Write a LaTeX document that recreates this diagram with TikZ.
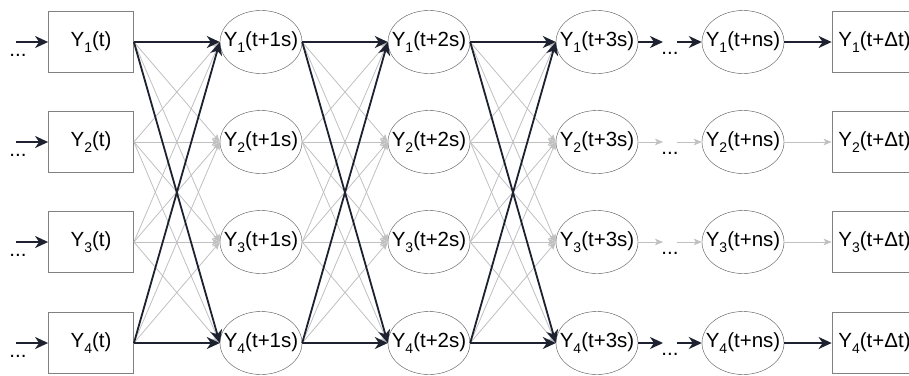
\documentclass[tikz,border=0pt]{standalone}
\usepackage{fontspec}
\setmainfont{Liberation Sans}
\usetikzlibrary{shapes.geometric,arrows.meta,positioning}
\definecolor{netdark}{RGB}{30,34,48}
\definecolor{netgray}{RGB}{192,192,192}
\definecolor{netbox}{RGB}{128,128,128}
\definecolor{netell}{RGB}{80,80,80}
\newcommand{\elltext}[1]{\makebox[0pt]{#1}}
\newcommand{\varidx}[1]{\raisebox{-0.28em}{\fontsize{14}{14}\selectfont #1}}

\begin{document}
\begin{tikzpicture}[x=1pt, y=-1pt, node distance=168pt,
        boxstate/.style={rectangle, draw=netbox, thick, minimum width=85pt, minimum height=61pt, inner sep=0pt, font=\fontsize{20.5}{24}\selectfont},
        ellstate/.style={ellipse, draw=netell, thin, minimum width=82pt, minimum height=63pt, inner sep=0pt, font=\fontsize{20.5}{24}\selectfont},
        dots/.style={inner sep=0pt, font=\fontsize{20.5}{24}\selectfont},
        weak/.style={-{Stealth[length=8pt,width=6.5pt,inset=2pt]}, color=netgray, line width=0.8pt},
        strong/.style={-{Stealth[length=13pt,width=12pt,inset=4pt]}, color=netdark, line width=1.8pt}
    ]
        \useasboundingbox (0,0) rectangle (909,375);
        % states, one row per variable
        \foreach \r/\y in {1/42,2/142,3/242,4/343} {
            \node[boxstate] (c0r\r) at (91,\y) {Y\varidx{\r}(t)};
            \node[ellstate, right of=c0r\r, xshift=2pt] (c1r\r) {\elltext{Y\varidx{\r}(t+1s)}};
            \node[ellstate, right of=c1r\r] (c2r\r) {\elltext{Y\varidx{\r}(t+2s)}};
            \node[ellstate, right of=c2r\r] (c3r\r) {\elltext{Y\varidx{\r}(t+3s)}};
            \node[ellstate, right of=c3r\r, xshift=-22pt] (cnr\r) {\elltext{Y\varidx{\r}(t+ns)}};
            \node[boxstate, right of=cnr\r, xshift=-36.5pt] (cdr\r) {Y\varidx{\r}(t+Δt)};
            \coordinate (inl\r) at (16,\y);
            \node[dots] (dl\r) at (18,\y+13) {...};
            \coordinate (gapa\r) at (663,\y);
            \node[dots] (dm\r) at (670,\y+11) {...};
            \coordinate (gapb\r) at (677,\y);
        }
        % all links between neighbouring columns
        \foreach \a/\b in {c0/c1,c1/c2,c2/c3} {
            \foreach \i in {1,...,4}
                \foreach \j in {1,...,4}
                    \draw[weak] (\a r\i.east) -- (\b r\j.west);
            \draw[strong] (\a r1.east) -- (\b r1.west);
            \draw[strong] (\a r4.east) -- (\b r4.west);
            \draw[strong] (\a r1.east) -- (\b r4.west);
            \draw[strong] (\a r4.east) -- (\b r1.west);
        }
        % inputs and the tail of each chain
        \foreach \r/\st in {1/strong,2/weak,3/weak,4/strong} {
            \draw[strong] (inl\r) -- (c0r\r.west);
            \draw[\st] (c3r\r.east) -- (gapa\r);
            \draw[\st] (gapb\r) -- (cnr\r.west);
            \draw[\st] (cnr\r.east) -- (cdr\r.west);
        }
    \end{tikzpicture}
\end{document}
